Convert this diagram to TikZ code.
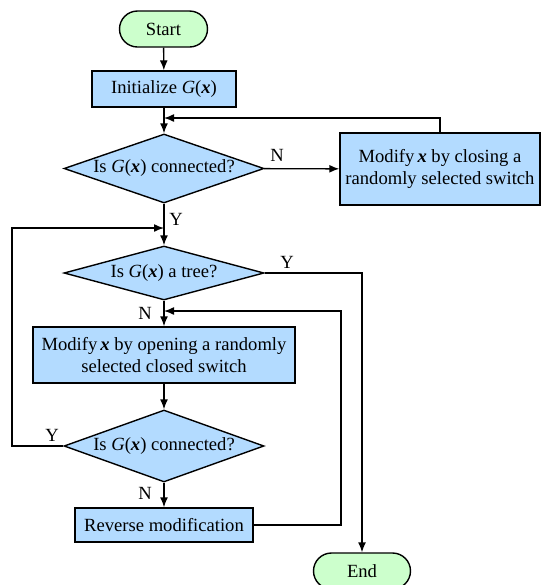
\documentclass[tikz,border=0pt]{standalone}
\usepackage{fontspec}
\setmainfont{Liberation Serif}
\usepackage{xcolor}
\usetikzlibrary{shapes.geometric,shapes.misc,arrows.meta,positioning}

\definecolor{boxblue}{RGB}{179,219,255}
\definecolor{termgreen}{RGB}{204,255,204}

\newcommand{\Gx}{\textit{G}(\textbf{\textit{x}})}
\newcommand{\xv}{\textbf{\textit{x}}}

\tikzset{
  terminal/.style={rounded rectangle, draw, line width=0.7pt, fill=termgreen, minimum width=44pt, minimum height=18pt, inner sep=0pt},
  process/.style={rectangle, draw, line width=0.7pt, fill=boxblue, inner sep=0pt, align=center},
  decision/.style={diamond, aspect=3, draw, line width=0.7pt, fill=boxblue, inner sep=0pt, minimum width=100pt},
  arr/.style={-{Latex[length=5pt,width=4pt]}, line width=0.7pt},
  line/.style={line width=0.7pt},
  lbl/.style={inner sep=0pt}
}

\begin{document}
\begin{tikzpicture}[x=0.5pt,y=-0.5pt,font=\fontsize{9.3}{10.6}\selectfont]

\useasboundingbox (0,0) rectangle (541,585);

% nodes
\node[terminal] (start) at (163.5,29) {Start};
\node[process, minimum width=72pt, minimum height=18pt] (init) at (164,89) {Initialize \Gx};
\node[decision, minimum height=34.5pt] (conn1) at (164,168.5) {Is \Gx\ connected?};
\node[process, minimum width=100pt, minimum height=36pt] (close) at (440,169) {Modify\,\xv\ by closing a\\randomly selected switch};
\node[decision, minimum height=27pt] (tree) at (164,273) {Is \Gx\ a tree?};
\node[process, minimum width=131pt, minimum height=28pt] (open) at (164,355) {Modify\,\xv\ by opening a randomly\\selected closed switch};
\node[decision, minimum height=36pt] (conn2) at (164,446) {Is \Gx\ connected?};
\node[process, minimum width=89pt, minimum height=17pt] (rev) at (164,525) {Reverse modification};
\node[terminal, minimum width=48.5pt] (end) at (362,571) {End};

% junctions on the main line
\coordinate (j1) at (164,118);
\coordinate (j2) at (164,228);
\coordinate (j3) at (164,311);
\coordinate (lc) at (12,228);
\coordinate (rc) at (341,311);

% connectors
\draw[arr] (start) -- (init);
\draw[arr] (init) -- (conn1);
\draw[arr] (close.north) |- (j1);
\draw[arr] (conn1) -- (close);
\draw[arr] (conn1) -- (tree);
\draw[arr] (tree.east) -| (end.north);
\draw[arr] (tree) -- (open);
\draw[arr] (open) -- (conn2);
\draw[arr] (conn2) -- (rev);
\draw[arr] (conn2.west) -| (lc) -- (j2);
\draw[arr] (rev.east) -| (rc) -- (j3);

% labels
\node[lbl] (n1) at (277,155) {N};
\node[lbl] (y1) at (176,219) {Y};
\node[lbl] (y2) at (287,262) {Y};
\node[lbl] (n2) at (145,313) {N};
\node[lbl] (y3) at (52,435) {Y};
\node[lbl] (n3) at (145,493) {N};

\end{tikzpicture}
\end{document}
